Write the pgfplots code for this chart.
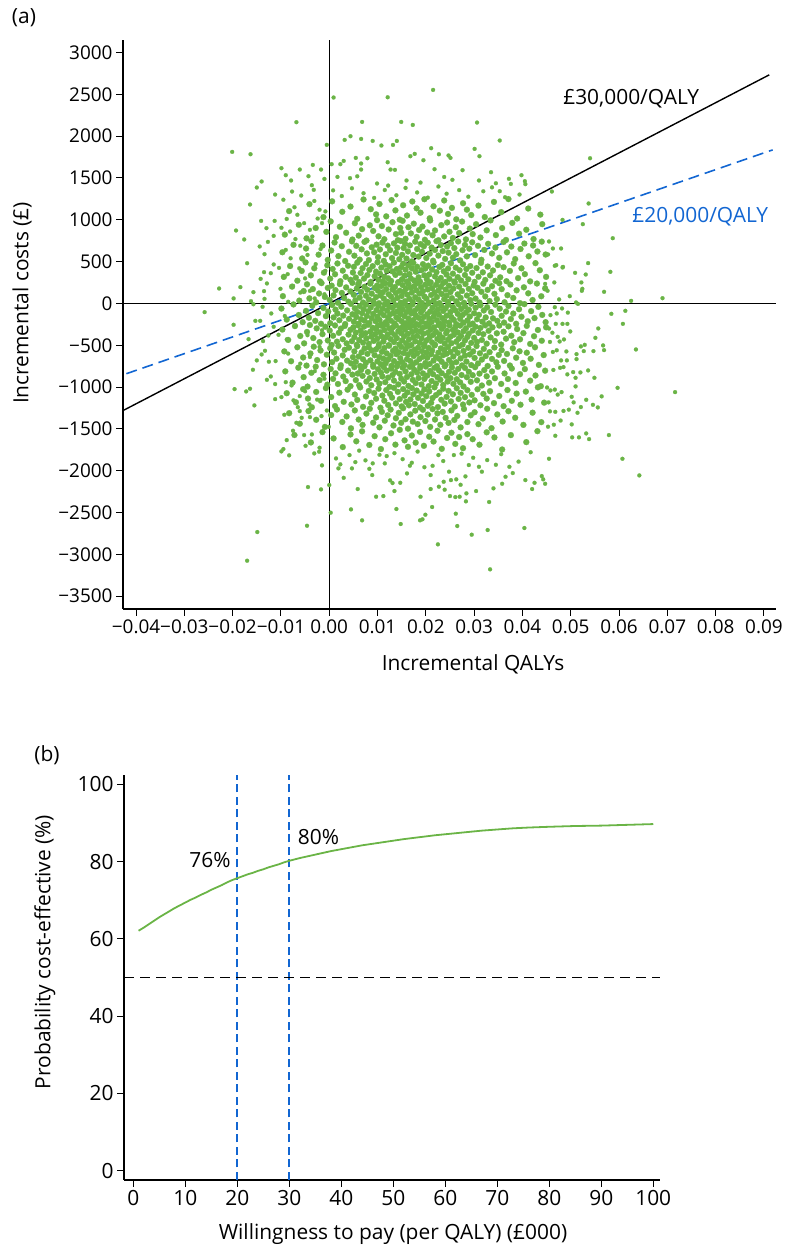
\documentclass[border=0pt]{standalone}
\usepackage{pgfplots}
\pgfplotsset{compat=1.18}
\usepackage{fontspec}
\setmainfont{Open Sans}
\definecolor{ptgreen}{RGB}{106,180,70}
\definecolor{ceblue}{RGB}{18,102,210}
\newcommand{\tickfont}{\fontsize{19}{20}\selectfont}
\newcommand{\labfont}{\fontsize{21}{22}\selectfont}
\begin{document}
\begin{tikzpicture}[x=1bp,y=1bp]
\path[use as bounding box] (0,0) rectangle (789,1250);
% ---------------- panel (a) ----------------
\begin{axis}[
  at={(123bp,641bp)}, anchor=south west,
  scale only axis, width=653bp, height=569bp,
  xmin=-427, xmax=925, ymin=-3653, ymax=3150,
  axis x line*=bottom, axis y line*=left,
  axis line style={line width=1.3bp},
  tick style={line width=1bp, black},
  major tick length=7bp, tick align=outside,
  xtick={-400,-300,-200,-100,0,100,200,300,400,500,600,700,800,900},
  xticklabels={−0.04,−0.03,−0.02,−0.01,0.00,0.01,0.02,0.03,0.04,0.05,0.06,0.07,0.08,0.09},
  ytick={-3500,-3000,-2500,-2000,-1500,-1000,-500,0,500,1000,1500,2000,2500,3000},
  yticklabels={−3500,−3000,−2500,−2000,−1500,−1000,−500,0,500,1000,1500,2000,2500,3000},
  ticklabel style={font=\tickfont},
]
\addplot[black, line width=0.9bp] coordinates {(-427,0)(925,0)};
\addplot[black, line width=0.9bp] coordinates {(0,-3653)(0,3150)};
\addplot[only marks, color=ptgreen, mark=*, mark size=3.0pt, mark options={solid, fill=ptgreen, draw=ptgreen, line width=0.2pt}] table {
x y
-83 1104
-41 1187
-12 1032
6 1221
27 1096
44 1158
58 1012
71 1243
86 1127
97 1065
104 1189
118 1041
129 1236
137 1113
146 1002
153 1174
161 1051
172 1219
181 1137
189 1085
197 1246
208 1018
216 1162
229 1109
238 1231
246 1070
254 1143
263 1006
277 1198
285 1121
294 1057
309 1170
322 1033
341 1214
356 1092
371 1248
389 1015
412 1135
437 1062
-92 823
-63 941
-47 778
-28 902
-6 856
3 981
14 792
22 917
35 845
48 764
53 959
61 811
68 888
77 752
84 934
91 867
99 996
102 803
109 925
114 768
123 884
131 971
138 829
142 757
147 903
149 846
152 988
158 772
164 911
169 837
175 954
181 795
186 878
193 920
198 761
203 849
209 992
214 815
219 873
226 756
232 936
238 801
244 968
249 857
256 783
262 912
269 842
275 979
283 766
291 895
297 829
304 947
313 788
326 874
334 993
345 817
358 901
366 759
379 963
393 834
408 881
423 770
441 948
-97 612
-74 701
-56 538
-48 657
-37 744
-22 583
-14 692
-3 521
4 633
11 729
19 566
26 684
33 507
41 618
47 742
52 571
56 689
63 524
67 647
73 736
78 598
82 518
88 671
93 612
98 703
101 553
105 645
110 727
113 509
117 588
121 691
126 637
130 542
134 718
138 604
141 666
145 529
148 747
151 581
154 663
157 712
160 536
163 622
167 694
171 503
174 579
178 738
182 651
185 560
189 709
192 617
196 684
201 543
204 726
208 595
212 668
215 511
219 639
222 745
226 572
231 698
235 626
240 533
244 681
247 607
252 720
256 548
259 662
263 589
267 741
271 515
276 637
281 700
285 563
290 654
296 731
302 578
308 689
315 522
321 640
329 713
337 597
344 668
352 546
361 735
368 611
377 680
385 530
396 651
404 716
413 564
422 693
431 621
440 739
448 585
-94 318
-81 447
-66 272
-57 389
-49 491
-38 336
-31 421
-19 263
-11 368
-4 457
2 297
7 412
12 349
17 478
23 266
28 392
34 318
39 451
44 283
49 370
51 438
55 309
58 487
62 256
65 364
69 421
72 297
76 472
79 339
83 401
86 258
90 446
94 325
97 380
100 492
102 281
105 357
108 429
111 263
114 318
117 466
119 392
122 301
125 445
128 270
131 383
134 488
137 341
140 412
143 255
146 367
149 434
151 289
153 476
156 332
158 404
161 262
164 457
166 351
169 298
171 420
174 486
176 273
179 379
182 439
185 312
188 261
191 398
194 470
197 336
199 418
202 288
205 452
207 347
210 253
213 406
216 491
219 322
222 374
225 269
228 437
231 305
234 461
237 384
240 258
243 345
246 417
249 294
252 481
256 356
259 263
262 428
266 315
270 397
273 274
277 468
281 340
284 411
288 289
292 447
296 367
301 258
305 423
309 319
314 485
318 372
323 281
328 441
333 336
339 394
344 271
349 459
354 312
361 433
367 266
374 389
382 478
391 303
398 420
405 350
416 264
427 482
436 397
449 318
-96 87
-77 201
-62 34
-53 148
-46 229
-41 61
-34 172
-27 14
-21 119
-16 243
-9 78
-3 186
1 42
5 213
9 97
13 159
18 8
22 231
26 126
31 64
35 192
40 21
44 144
48 246
51 103
54 37
57 178
60 226
63 71
66 138
70 11
73 199
76 92
79 163
82 48
85 237
88 117
91 29
94 185
97 76
99 214
101 153
103 3
106 96
108 208
111 134
113 57
116 241
118 172
121 19
123 109
126 227
128 83
131 165
133 38
136 196
138 125
141 66
143 248
146 151
148 9
150 89
152 219
155 142
157 27
159 177
162 104
164 234
166 55
169 189
171 131
173 16
176 207
178 74
180 158
183 243
185 45
187 118
190 196
192 6
194 147
197 83
199 224
201 59
204 168
206 12
208 239
211 101
213 183
216 34
218 130
221 221
223 77
226 155
228 4
231 199
233 113
236 244
238 51
241 166
243 92
246 18
248 212
251 136
254 63
257 178
260 248
263 25
266 109
269 201
272 67
275 149
279 8
282 232
285 95
289 174
292 40
296 122
299 215
303 58
307 187
311 11
315 139
319 236
323 84
328 162
332 29
337 206
342 115
347 52
352 242
357 171
363 14
369 99
375 226
381 66
388 157
395 3
403 193
412 121
421 41
430 238
439 86
447 180
-99 -61
-88 -193
-74 -12
-63 -138
-55 -224
-48 -89
-42 -171
-35 -27
-29 -208
-23 -116
-17 -243
-12 -54
-7 -152
-2 -97
2 -236
6 -18
9 -167
13 -74
17 -121
21 -201
25 -39
29 -145
33 -246
37 -83
41 -184
45 -6
48 -129
51 -219
53 -58
56 -162
58 -101
61 -241
63 -31
66 -187
68 -117
71 -69
73 -205
76 -14
78 -149
81 -92
83 -233
86 -47
88 -176
91 -125
93 -3
96 -213
98 -78
100 -158
102 -29
104 -197
106 -108
109 -249
111 -63
113 -141
115 -9
117 -224
120 -86
122 -173
124 -36
126 -131
128 -207
131 -52
133 -114
135 -238
137 -21
139 -166
141 -95
144 -189
146 -42
148 -127
150 -214
152 -71
154 -5
156 -153
158 -237
160 -104
162 -33
164 -181
166 -66
168 -229
170 -119
172 -14
174 -199
177 -88
179 -143
181 -247
183 -57
185 -172
187 -26
190 -108
192 -218
194 -77
196 -162
198 -39
201 -241
203 -130
205 -2
207 -185
209 -96
212 -221
214 -49
216 -158
218 -113
221 -8
223 -201
225 -72
227 -135
230 -244
232 -28
234 -176
236 -90
239 -212
241 -59
243 -147
246 -18
248 -229
251 -103
253 -164
256 -43
258 -196
261 -81
263 -247
266 -125
268 -12
271 -184
273 -67
276 -138
278 -230
281 -35
283 -109
286 -203
289 -75
291 -157
294 -4
297 -241
300 -117
303 -51
306 -189
310 -136
313 -22
317 -218
320 -84
324 -167
327 -46
331 -239
335 -102
339 -178
344 -15
348 -208
353 -63
357 -148
362 -229
366 -97
371 -31
376 -186
381 -121
387 -243
393 -69
398 -159
404 -8
411 -213
418 -92
425 -175
433 -41
441 -137
448 -224
-97 -312
-85 -436
-71 -271
-60 -389
-52 -477
-46 -341
-40 -258
-33 -414
-26 -298
-20 -462
-14 -367
-8 -279
-3 -443
1 -324
5 -496
8 -386
12 -263
16 -457
20 -351
24 -301
28 -428
32 -269
36 -478
40 -372
44 -316
47 -451
50 -287
52 -403
55 -349
57 -494
60 -262
62 -437
65 -323
67 -381
70 -469
72 -277
75 -356
77 -419
80 -255
82 -482
85 -337
87 -396
90 -291
92 -448
95 -368
97 -306
99 -423
101 -266
103 -487
105 -344
108 -392
110 -271
112 -456
114 -318
116 -409
119 -253
121 -371
123 -498
125 -299
127 -427
129 -346
132 -284
134 -462
136 -379
138 -262
140 -415
143 -331
145 -489
147 -297
149 -356
151 -441
153 -273
155 -393
157 -314
159 -476
161 -259
163 -364
165 -431
167 -288
170 -497
172 -342
174 -405
176 -268
178 -453
180 -322
182 -387
185 -257
187 -471
189 -335
191 -418
193 -294
195 -362
197 -484
200 -276
202 -439
204 -351
206 -263
208 -404
210 -311
213 -466
215 -377
217 -286
219 -492
221 -339
224 -425
226 -258
228 -369
230 -447
233 -303
235 -412
237 -271
239 -481
242 -356
244 -328
246 -434
249 -262
251 -398
253 -476
256 -317
258 -374
261 -285
263 -458
266 -346
268 -421
271 -265
273 -389
276 -491
278 -332
281 -443
283 -297
286 -401
289 -362
291 -254
294 -472
297 -323
300 -411
303 -279
306 -458
309 -352
313 -293
316 -437
319 -368
323 -261
326 -481
330 -327
334 -406
338 -286
343 -449
347 -357
352 -265
356 -492
361 -338
366 -421
371 -274
377 -386
383 -463
389 -306
395 -429
402 -355
409 -268
416 -484
424 -392
432 -317
440 -446
449 -285
-93 -573
-79 -691
-66 -524
-54 -646
-47 -743
-39 -598
-32 -517
-25 -677
-18 -562
-11 -728
-5 -613
2 -536
6 -702
10 -587
15 -661
19 -508
24 -739
28 -621
32 -554
37 -684
41 -529
45 -716
49 -642
52 -573
55 -698
58 -511
61 -634
64 -747
67 -585
70 -667
73 -538
76 -709
79 -603
82 -525
85 -681
88 -562
91 -734
94 -619
97 -549
100 -692
102 -516
104 -641
107 -727
109 -578
112 -659
114 -533
117 -714
119 -597
122 -672
124 -506
127 -628
129 -745
132 -567
134 -688
137 -541
139 -606
142 -722
144 -583
147 -654
149 -519
151 -701
154 -593
156 -738
158 -544
161 -667
163 -612
165 -507
168 -689
170 -576
173 -731
175 -628
177 -552
180 -703
182 -598
184 -529
187 -663
189 -746
192 -571
194 -637
196 -513
199 -712
201 -586
203 -649
206 -531
208 -724
211 -607
213 -564
216 -683
218 -502
221 -641
223 -749
226 -589
228 -662
231 -537
233 -698
236 -618
238 -556
241 -733
243 -601
246 -521
248 -676
251 -579
254 -715
257 -634
260 -548
263 -702
266 -592
269 -512
272 -657
275 -741
278 -568
281 -623
284 -695
288 -531
291 -611
294 -737
298 -574
301 -652
305 -509
308 -718
312 -596
316 -671
320 -543
324 -629
328 -748
332 -582
337 -663
342 -527
346 -704
351 -615
357 -558
362 -687
368 -604
374 -742
380 -536
387 -649
394 -572
401 -711
409 -589
417 -661
426 -524
434 -735
444 -617
-91 -812
-76 -947
-64 -768
-53 -881
-45 -994
-37 -829
-28 -756
-20 -917
-12 -853
-4 -971
3 -784
8 -902
13 -836
18 -963
23 -771
29 -874
34 -928
39 -803
44 -989
48 -851
52 -761
55 -916
59 -838
62 -977
66 -795
69 -866
73 -751
77 -934
80 -819
84 -892
87 -978
91 -757
94 -843
98 -909
101 -786
104 -958
107 -827
110 -873
113 -762
116 -941
119 -804
122 -887
125 -996
128 -779
131 -856
134 -922
137 -818
140 -753
143 -968
146 -842
149 -899
152 -767
155 -934
158 -813
161 -879
164 -986
167 -758
170 -847
173 -914
176 -793
179 -952
182 -826
185 -891
188 -772
191 -969
194 -836
197 -903
200 -754
203 -862
206 -988
209 -807
212 -927
215 -846
218 -769
221 -958
224 -881
227 -799
230 -912
233 -834
236 -975
239 -752
242 -867
245 -934
248 -818
251 -893
254 -764
257 -961
260 -829
264 -906
267 -783
271 -944
274 -856
278 -992
281 -771
285 -882
289 -817
293 -937
297 -858
302 -762
306 -919
311 -839
316 -981
321 -797
326 -871
331 -948
337 -813
343 -894
349 -757
356 -962
363 -837
370 -903
378 -778
386 -951
395 -846
405 -785
416 -923
427 -861
438 -989
447 -804
-88 -1073
-69 -1182
-54 -1025
-44 -1137
-36 -1241
-27 -1058
-17 -1164
-7 -1012
4 -1119
12 -1227
21 -1067
30 -1176
38 -1031
46 -1208
53 -1089
58 -1153
64 -1004
70 -1236
76 -1112
82 -1046
87 -1188
93 -1071
97 -1139
102 -1019
106 -1247
110 -1101
114 -1163
118 -1036
122 -1214
126 -1082
130 -1126
134 -1009
138 -1195
142 -1057
146 -1143
150 -1231
153 -1024
156 -1104
159 -1177
162 -1063
165 -1218
168 -1148
171 -1011
174 -1087
177 -1203
181 -1041
184 -1129
188 -1244
191 -1076
194 -1166
197 -1028
201 -1109
204 -1224
207 -1052
211 -1187
214 -1131
218 -1003
221 -1096
225 -1239
228 -1064
232 -1152
236 -1019
239 -1198
243 -1117
247 -1046
252 -1171
256 -1086
260 -1233
264 -1014
268 -1142
272 -1069
277 -1209
281 -1121
286 -1037
290 -1184
295 -1093
301 -1158
307 -1026
313 -1217
319 -1081
326 -1137
333 -1049
341 -1192
352 -1107
361 -1228
369 -1035
378 -1164
388 -1078
396 -1211
407 -1054
419 -1149
432 -1003
445 -1186
-83 -1312
-61 -1438
-43 -1287
-27 -1391
-9 -1476
4 -1334
16 -1268
27 -1417
36 -1351
45 -1493
53 -1279
61 -1388
69 -1452
77 -1317
84 -1259
91 -1426
97 -1363
104 -1481
109 -1296
115 -1402
121 -1337
127 -1269
133 -1459
138 -1372
144 -1308
149 -1427
153 -1253
158 -1384
163 -1497
168 -1326
173 -1413
178 -1282
183 -1442
189 -1359
194 -1271
199 -1406
204 -1329
209 -1476
214 -1263
219 -1388
224 -1314
230 -1451
235 -1297
241 -1368
247 -1428
253 -1279
259 -1393
265 -1345
272 -1482
279 -1262
286 -1418
293 -1337
301 -1301
309 -1443
318 -1376
327 -1259
336 -1491
348 -1327
359 -1412
371 -1288
385 -1367
402 -1452
421 -1306
439 -1419
-72 -1573
-38 -1662
-14 -1538
9 -1614
28 -1717
44 -1566
56 -1648
68 -1529
83 -1692
94 -1587
107 -1741
116 -1623
128 -1552
137 -1688
146 -1511
156 -1637
163 -1714
171 -1579
179 -1664
188 -1536
196 -1702
207 -1593
216 -1651
224 -1522
233 -1738
244 -1608
253 -1546
261 -1679
269 -1597
277 -1731
286 -1563
297 -1623
311 -1689
326 -1541
342 -1602
358 -1746
376 -1574
408 -1658
431 -1527
};
\addplot[only marks, color=ptgreen, mark=*, mark size=2.0pt, mark options={solid, fill=ptgreen, draw=ptgreen, line width=0.2pt}] table {
x y
-68 2167
-5 1896
9 2462
-201 1812
-163 1784
-164 1183
-150 1386
-140 1458
-112 1302
-99 1617
-90 1533
-79 1470
-77 1338
-61 1601
-43 1521
-34 1656
-17 1601
-10 1489
-36 1414
-32 1358
-193 872
-176 765
-170 481
-228 179
-198 60
-184 195
-141 987
-130 900
-113 987
-115 808
-127 736
-144 681
-134 589
-115 466
-104 425
-135 374
-121 362
-142 294
-129 239
-157 135
-135 147
-101 175
-134 55
-162 27
-95 1240
-72 1150
-58 1290
-31 1225
-20 1120
-88 1010
-66 1060
-52 960
-24 1015
-8 1100
-99 905
-81 860
-40 880
-15 960
-70 770
-35 800
-60 690
-90 640
-18 650
-45 580
-80 540
-28 470
-62 420
-8 390
-86 350
-50 300
-20 250
-75 210
-40 150
-10 110
-95 310
-60 130
-30 60
-85 20
-92 -150
-70 -260
-45 -380
-20 -520
-85 -600
-60 -720
-30 -810
-10 -900
-78 -980
-50 -1050
-25 -1150
-5 -1280
-88 -430
-40 -640
-15 -320
-65 -1240
121 2465
215 2553
68 2170
149 2170
173 2134
306 2163
32 1955
44 1999
66 1967
90 1943
108 1888
132 1895
140 1943
353 1948
301 1848
311 1760
211 1856
168 1760
177 1788
227 1784
247 1769
251 1740
5 1665
23 1665
30 1704
55 1740
66 1673
66 1601
79 1736
121 1688
127 1601
136 1597
195 1712
218 1605
276 1593
335 1569
398 1533
406 1426
376 1429
353 1342
364 1270
394 1302
17 1513
43 1498
58 1520
99 1434
122 1409
160 1470
189 1445
238 1512
255 1478
310 1470
345 1437
372 1490
405 1462
8 1352
26 1284
47 1377
71 1318
93 1262
115 1356
139 1293
158 1381
182 1327
204 1265
226 1398
243 1312
269 1355
288 1276
319 1341
337 1388
540 1736
461 1338
537 1195
483 999
525 948
587 780
455 741
463 657
480 657
453 586
470 458
483 430
536 482
509 366
531 346
582 378
447 234
466 251
522 251
452 151
523 151
569 139
498 87
476 48
511 12
625 31
690 63
515 -5
467 450
484 437
524 175
584 -124
613 -88
608 -244
635 -550
716 -1060
597 -1009
579 -1574
607 -1857
642 -2056
557 -299
551 -411
567 -502
569 -558
547 -570
527 -570
529 -495
521 -514
512 -606
512 -666
536 -801
549 -889
564 -1111
556 -1243
546 -1212
532 -1152
521 -1239
538 -1622
532 -1554
517 -1601
503 -1601
502 -1446
514 -1307
506 -1183
502 -1116
510 -992
520 -825
510 -889
493 -848
505 -821
485 -761
480 -681
492 -681
491 -574
486 -430
473 -399
499 -335
493 -244
483 -244
469 -244
455 -1857
440 -2064
443 -2103
447 -2156
468 -1582
453 -1474
465 -1450
479 -1400
454 -1183
457 -1290
468 -1296
485 -1285
496 -1270
481 -1060
467 -1030
458 -1040
473 -1090
451 -1005
464 -795
478 -770
471 -560
463 -580
457 -460
477 -455
455 -300
462 -350
471 -120
494 -110
482 -60
467 -45
458 -140
-258 -104
-198 -255
-167 -427
-158 -793
-196 -1024
-172 -1052
-164 -1020
-155 -1219
-149 -2733
-170 -3076
-46 -2658
-44 -2195
-17 -2223
-15 -1936
0 -2171
3 -2502
-31 -1793
-21 -1773
-20 -1725
-83 -1816
-99 -1769
-95 -1741
-88 -1634
-49 -1702
-75 -1522
-52 -1574
-36 -1566
-93 -1331
-68 -1427
-57 -1367
-40 -1359
-61 -1287
-41 -1207
-16 -1347
-1 -1475
-112 -1144
-99 -1120
-129 -913
-121 -873
-112 -964
-90 -941
-74 -1159
-61 -1108
-150 -681
-140 -610
-133 -566
-125 -697
-111 -689
-153 -208
-143 -208
-120 -120
-115 -279
-105 -375
-126 -383
-137 -450
-157 -10
-138 -40
333 -3179
225 -2880
295 -2765
328 -2709
404 -2685
148 -2637
68 -2593
45 -2462
188 -2593
193 -2581
199 -2526
265 -2661
262 -2514
139 -2458
213 -2434
331 -2374
97 -2311
112 -2303
189 -2311
59 -2219
135 -2243
126 -2115
131 -2147
147 -2144
210 -2219
227 -2191
239 -2227
250 -2303
261 -2315
270 -2311
283 -2366
284 -2271
304 -2243
237 -2132
252 -2112
263 -2103
272 -2168
340 -2211
358 -2156
365 -2072
380 -2028
373 -1953
345 -1929
316 -2012
310 -1953
289 -1932
327 -1873
406 -2112
425 -2144
420 -2219
14 -1853
23 -1924
19 -1972
42 -1813
47 -1972
54 -1897
75 -1876
83 -1977
89 -2052
90 -1912
104 -1809
115 -1912
119 -1825
161 -2032
171 -1905
210 -2052
214 -1941
226 -1813
248 -2012
258 -1813
135 -1790
152 -1862
183 -1771
197 -1958
236 -1884
274 -1796
298 -1845
356 -1802
392 -1891
417 -1779
62 -1760
167 -1940
282 -2068
30 -2085
};
\addplot[black, line width=1.4bp] coordinates {(-429,-1287)(911,2733)};
\addplot[ceblue, line width=1.6bp, dash pattern=on 11bp off 6bp] coordinates {(-420,-840)(918,1836)};
\node[font=\labfont, black] at (axis cs:625,2442) {£30,000/QALY};
\node[font=\labfont, text=ceblue] at (axis cs:768,1032) {£20,000/QALY};
\end{axis}
% ---------------- panel (b) ----------------
\begin{axis}[
  at={(124bp,70bp)}, anchor=south west,
  scale only axis, width=536bp, height=405bp,
  xmin=-1.8, xmax=101.3, ymin=-2.4, ymax=102.4,
  axis x line*=bottom, axis y line*=left,
  axis line style={line width=1.3bp},
  tick style={line width=1bp, black},
  major tick length=7bp, tick align=outside,
  xtick={0,10,20,30,40,50,60,70,80,90,100},
  xticklabels={0,10,20,30,40,50,60,70,80,90,100},
  ytick={0,20,40,60,80,100},
  yticklabels={0,20,40,60,80,100},
  ticklabel style={font=\labfont},
]
\addplot[color=ceblue, line width=2bp, dash pattern=on 8bp off 4.5bp] coordinates {(20,-2.4)(20,102.4)};
\addplot[color=ceblue, line width=2bp, dash pattern=on 8bp off 4.5bp] coordinates {(30,-2.4)(30,102.4)};
\addplot[color=black, line width=1.8bp, dash pattern=on 10bp off 6bp] coordinates {(-1.8,50)(101.3,50)};
\addplot[color=ptgreen, line width=1.8bp] table {
x y
1 62.1
2 62.9
3 63.8
4 64.7
5 65.6
6 66.4
7 67.2
8 68.0
9 68.7
10 69.4
11 70.1
12 70.7
13 71.4
14 72.0
15 72.7
16 73.3
17 73.9
18 74.6
19 75.2
20 75.7
21 76.2
22 76.7
23 77.1
24 77.6
25 78.0
26 78.5
27 78.9
28 79.3
29 79.8
30 80.2
32 80.9
34 81.5
36 82.1
38 82.7
40 83.2
42 83.7
44 84.2
46 84.6
48 85.0
50 85.4
52 85.8
55 86.3
58 86.8
61 87.2
64 87.6
67 88.0
70 88.3
73 88.6
76 88.8
80 89.0
85 89.2
90 89.3
95 89.5
100 89.7
};
\node[font=\labfont] at (axis cs:14.75,80.3) {76\%};
\node[font=\labfont] at (axis cs:35.6,86.3) {80\%};
\end{axis}
% ---------------- labels ----------------
\node[font=\labfont] at (24,1232) {(a)};
\node[font=\labfont, rotate=90] at (22,947) {Incremental costs (£)};
\node[font=\labfont] at (473,586) {Incremental QALYs};
\node[font=\labfont] at (47,495) {(b)};
\node[font=\labfont, rotate=90] at (45,298) {Probability cost-effective (\%)};
\node[font=\labfont] at (393,16) {Willingness to pay (per QALY) (£000)};
\end{tikzpicture}
\end{document}
